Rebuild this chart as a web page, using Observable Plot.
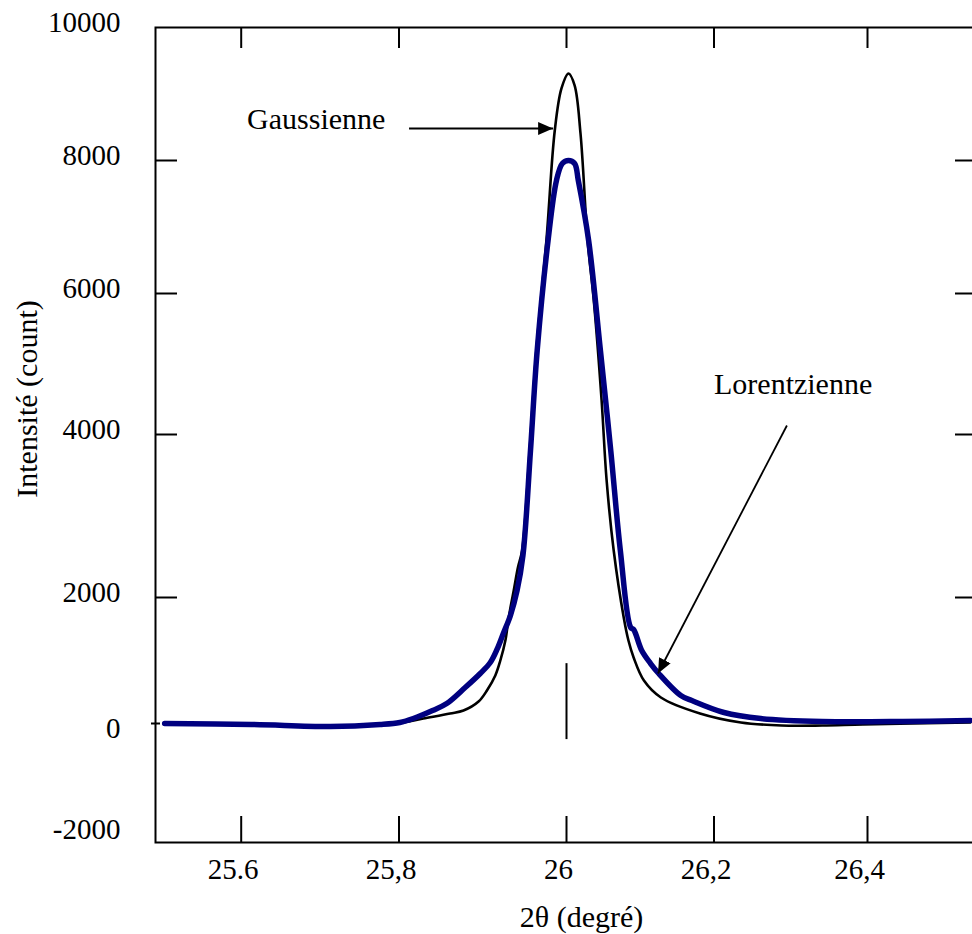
<!DOCTYPE html>
<html>
<head>
<meta charset="utf-8">
<script src="https://cdn.jsdelivr.net/npm/d3@7"></script>
<script src="https://cdn.jsdelivr.net/npm/@observablehq/plot@0.6"></script>
<style>
  html, body { margin: 0; padding: 0; background: #fff; overflow: hidden; }
  #chart svg { display: block; }
</style>
</head>
<body>
<div id="chart"></div>
<script>
// ---- Tick values and labels ----
const xTicks = [25.6, 25.8, 26, 26.2, 26.4];
const xTickLabels = ["25.6", "25,8", "26", "26,2", "26,4"];
const yTicks = [-2000, 0, 2000, 4000, 6000, 8000, 10000];
const yTickLabels = ["-2000", "0", "2000", "4000", "6000", "8000", "10000"];
const innerYTicks = [2000, 4000, 6000, 8000];

const xTitle = "2θ (degré)";
const yTitle = "Intensité (count)";

// ---- Gaussian fit (black) ----
const gaussX = [25.503, 25.613, 25.713, 25.776, 25.801, 25.829, 25.861, 25.877, 25.895, 25.905,
  25.915, 25.921, 25.927, 25.931, 25.937, 25.942, 25.947, 25.956, 25.964, 25.976,
  25.986, 25.994, 26.0027, 26.011, 26.019, 26.0286, 26.037, 26.0476, 26.0544, 26.064,
  26.0776, 26.084, 26.091, 26.105, 26.128, 26.181, 26.235, 26.288, 26.341, 26.394, 26.534];
const gaussY = [0, -18, -45, -18, 8, 79, 159, 206, 349, 524,
  762, 1000, 1317, 1683, 2086, 2368, 2577, 3804, 5191, 6797,
  8451, 9083, 9308, 9128, 8406, 6797, 5901, 4482, 3436, 2577,
  1683, 1317, 1048, 682, 413, 159, 16, -36, -36, -18, 16];

// ---- Lorentzian fit (navy) ----
const lorentzX = [25.503, 25.613, 25.713, 25.776, 25.801, 25.817, 25.840, 25.857, 25.879, 25.897,
  25.909, 25.917, 25.925, 25.933, 25.941, 25.948, 25.957, 25.965, 25.978, 25.988,
  25.995, 26.0027, 26.011, 26.016, 26.030, 26.046, 26.060, 26.073, 26.087, 26.091,
  26.102, 26.114, 26.125, 26.155, 26.170, 26.213, 26.261, 26.341, 26.446, 26.534];
const lorentzY = [0, -18, -54, -18, 16, 79, 206, 317, 571, 794,
  968, 1175, 1444, 1714, 2086, 2516, 3804, 5191, 6797, 7699,
  7955, 8000, 7955, 7699, 6797, 5191, 3804, 2577, 1524, 1492,
  1159, 952, 794, 444, 365, 175, 79, 32, 32, 48];

// ---- Annotations ----
const annotLabels = ["Gaussienne", "Lorentzienne"];
const annotX = [25.6075, 26.2];
const annotY = [8621, 4713];

const arrowX1 = [25.812, 26.295];
const arrowY1 = [8481, 4128];
const arrowX2 = [25.984, 26.124];
const arrowY2 = [8481, 794];

const peakMarkerX = [26.0];
const peakMarkerY1 = [-290];
const peakMarkerY2 = [950];

// ---- Build tables ----
const gauss = gaussX.map((x, i) => ({x, y: gaussY[i]}));
const lorentz = lorentzX.map((x, i) => ({x, y: lorentzY[i]}));
const annotations = annotLabels.map((label, i) => ({label, x: annotX[i], y: annotY[i]}));
const arrows = arrowX1.map((x1, i) => ({x1, y1: arrowY1[i], x2: arrowX2[i], y2: arrowY2[i]}));
const peakMarker = peakMarkerX.map((x, i) => ({x, y1: peakMarkerY1[i], y2: peakMarkerY2[i]}));

const SVGNS = "http://www.w3.org/2000/svg";
function filledArrow(color) {
  const m = document.createElementNS(SVGNS, "marker");
  m.setAttribute("viewBox", "-15 -7 15 14");
  m.setAttribute("markerWidth", 15);
  m.setAttribute("markerHeight", 14);
  m.setAttribute("markerUnits", "userSpaceOnUse");
  m.setAttribute("refX", 0);
  m.setAttribute("refY", 0);
  m.setAttribute("orient", "auto");
  m.setAttribute("fill", color);
  m.setAttribute("stroke", "none");
  const p = document.createElementNS(SVGNS, "path");
  p.setAttribute("d", "M-15,-6.5L0,0L-15,6.5Z");
  m.appendChild(p);
  return m;
}

const serif = '"Liberation Serif", "Times New Roman", Times, serif';

const chart = Plot.plot({
  width: 972,
  height: 934,
  marginLeft: 155,
  marginRight: -2,
  marginTop: 27,
  marginBottom: 92,
  style: {fontFamily: serif, fontSize: "29px", background: "#fff", color: "#000"},
  x: {type: "linear", domain: xTicks, range: [240.7, 398.5, 566, 713.5, 867], label: null},
  y: {type: "linear", domain: yTicks, range: [834, 723, 597, 434, 293, 160, 27], label: null},
  marks: [
    Plot.frame({stroke: "#000", strokeWidth: 2}),
    // top and bottom inner ticks
    Plot.tickX(xTicks, {x: d => d, insetBottom: 794, stroke: "#000", strokeWidth: 2}),
    Plot.tickX(xTicks, {x: d => d, insetTop: 789, stroke: "#000", strokeWidth: 2}),
    // left and right inner ticks
    Plot.tickY(innerYTicks, {y: d => d, insetRight: 797, stroke: "#000", strokeWidth: 2}),
    Plot.tickY(innerYTicks, {y: d => d, insetLeft: 800, insetRight: 2, stroke: "#000", strokeWidth: 2}),
    Plot.tickY([0], {y: d => d, insetLeft: -4, insetRight: 814, stroke: "#000", strokeWidth: 2}),
    // peak position marker
    Plot.ruleX(peakMarker, {x: "x", y1: "y1", y2: "y2", stroke: "#000", strokeWidth: 2}),
    // curves
    Plot.line(gauss, {x: "x", y: "y", stroke: "#000", strokeWidth: 2.6, curve: "catmull-rom"}),
    Plot.line(lorentz, {x: "x", y: "y", stroke: "#000080", strokeWidth: 5.5, curve: "catmull-rom"}),
    // annotation arrows and labels
    Plot.link(arrows, {x1: "x1", y1: "y1", x2: "x2", y2: "y2", stroke: "#000", strokeWidth: 1.8, markerEnd: filledArrow}),
    Plot.text(annotations, {x: "x", y: "y", text: "label", textAnchor: "start", lineAnchor: "middle", fontSize: 30, fill: "#000"}),
    // axes
    Plot.axisX({ticks: xTicks, tickFormat: d => xTickLabels[xTicks.indexOf(d)], tickSize: 0, tickPadding: 16, dx: -8, label: null, fontSize: 29}),
    Plot.axisY({ticks: yTicks.filter(d => d !== 0), tickFormat: d => yTickLabels[yTicks.indexOf(d)], tickSize: 0, tickPadding: 35, dy: -4.5, label: null, fontSize: 29}),
    Plot.axisY({ticks: [0], tickFormat: d => yTickLabels[yTicks.indexOf(d)], tickSize: 0, tickPadding: 35, dy: 5.5, label: null, fontSize: 29}),
    // axis titles
    Plot.text([xTitle], {text: d => d, frameAnchor: "bottom", textAnchor: "middle", lineAnchor: "middle", dx: 16.5, dy: 74.5, fontSize: 30, fill: "#000"}),
    Plot.text([yTitle], {text: d => d, frameAnchor: "left", textAnchor: "middle", lineAnchor: "middle", rotate: -90, dx: -128, dy: -36, fontSize: 30, fill: "#000"})
  ]
});

document.getElementById("chart").appendChild(chart);
</script>
</body>
</html>
